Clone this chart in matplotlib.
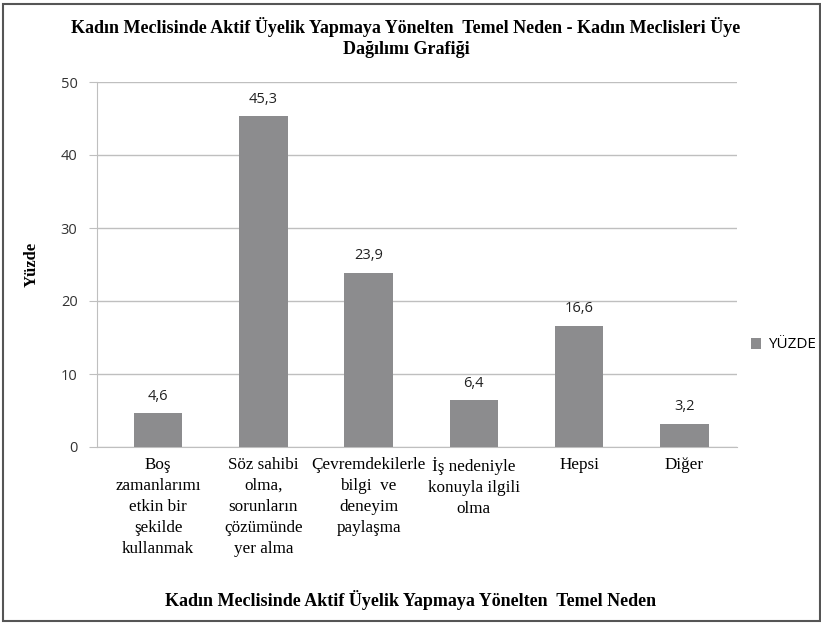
import matplotlib
matplotlib.use("Agg")
import matplotlib.pyplot as plt
from matplotlib.patches import Rectangle

categories = ["Boş\nzamanlarımı\netkin bir\nşekilde\nkullanmak",
              "Söz sahibi\nolma,\nsorunların\nçözümünde\nyer alma",
              "Çevremdekilerle\nbilgi  ve\ndeneyim\npaylaşma",
              "İş nedeniyle\nkonuyla ilgili\nolma",
              "Hepsi",
              "Diğer"]
values = [4.6, 45.3, 23.9, 6.4, 16.6, 3.2]
labels = ["4,6", "45,3", "23,9", "6,4", "16,6", "3,2"]
yticks = [0, 10, 20, 30, 40, 50]

serif = ["Liberation Serif", "DejaVu Serif"]
sans = ["Open Sans", "DejaVu Sans"]
bar_color = "#8c8c8e"
grid_color = "#bfbfbf"

fig = plt.figure(figsize=(8.21, 6.26), dpi=100)
ax = fig.add_axes([97/821, 1 - 447/626, 640/821, 365/626])

x = list(range(len(values)))
ax.bar(x, values, width=0.46, color=bar_color, zorder=3, label="YÜZDE")
for xi, v, lab in zip(x, values, labels):
    ax.text(xi, v + 1.3, lab, ha="center", va="bottom", fontsize=10.5,
            family=sans, color="#222222")

ax.set_xlim(-0.58, len(values) - 0.5)
ax.set_ylim(0, 50)
ax.set_yticks(yticks)
ax.set_yticklabels([str(t) for t in yticks], family=sans, fontsize=10.5, color="#333333")
ax.yaxis.grid(True, color=grid_color, linewidth=1, zorder=0)
ax.set_axisbelow(True)
for s in ["top", "right"]:
    ax.spines[s].set_visible(False)
ax.spines["left"].set_color(grid_color)
ax.spines["bottom"].set_color(grid_color)
ax.tick_params(axis="y", length=6, color=grid_color, pad=8)
ax.tick_params(axis="x", length=0, pad=7)
ax.set_xticks(x)
ax.set_xticklabels(categories, family=serif, fontsize=12.3, linespacing=1.43, va="top")

ax.set_ylabel("Yüzde", family=serif, fontsize=12, fontweight="bold")
ax.yaxis.set_label_coords((40 - 97) / 640, 0.5)
ax.set_xlabel("Kadın Meclisinde Aktif Üyelik Yapmaya Yönelten  Temel Neden",
              family=serif, fontsize=13, fontweight="bold")
ax.xaxis.set_label_coords((411 - 97) / 640, -(600 - 447) / 365)
ax.xaxis.label.set_va("center")

fig.text(406 / 821, 1 - 27 / 626, "Kadın Meclisinde Aktif Üyelik Yapmaya Yönelten  Temel Neden - Kadın Meclisleri Üye",
         ha="center", va="center", family=serif, fontsize=13, fontweight="bold")
fig.text(406 / 821, 1 - 50 / 626, "Dağılımı Grafiği",
         ha="center", va="center", family=serif, fontsize=13, fontweight="bold")

ax.legend(loc="center left", bbox_to_anchor=(1.0, (447 - 345) / 365), frameon=False,
          prop={"family": sans, "size": 11}, handlelength=0.7, handleheight=0.7,
          handletextpad=0.4)

fig.patches.append(Rectangle((0.004, 0.008), 0.995, 0.985, transform=fig.transFigure,
                             fill=False, edgecolor="#555555", linewidth=1.5))

fig.savefig("out.png", dpi=100)
